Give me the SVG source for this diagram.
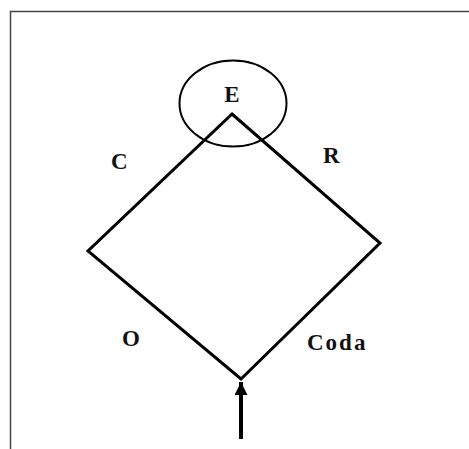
<svg xmlns="http://www.w3.org/2000/svg" width="469" height="449" viewBox="0 0 469 449">
<style>
.lbl{font-family:"Liberation Serif","Times New Roman",serif;font-weight:bold;font-size:23px;fill:#111}
.edge{fill:none;stroke:#000;stroke-width:3;stroke-linejoin:miter}
</style>
<defs>
<marker id="ah" viewBox="0 0 10 10" refX="10" refY="5" markerWidth="15" markerHeight="13" markerUnits="userSpaceOnUse" orient="auto">
<path d="M0,0 L10,5 L0,10 z" fill="#000"/>
</marker>
</defs>
<rect width="469" height="449" fill="#fff"/>
<path d="M10.5,449 V11.5 H469" fill="none" stroke="#444" stroke-width="1.5"/>
<g id="connectors">
<path class="edge" d="M232,114 L380,243 L241,379 L88,251 Z"/>
<line x1="241" y1="439" x2="241" y2="382" stroke="#000" stroke-width="4" marker-end="url(#ah)"/>
</g>
<g id="nodeE">
<ellipse cx="233" cy="103.5" rx="53.5" ry="43" fill="none" stroke="#000" stroke-width="2"/>
<text class="lbl" x="232" y="102" text-anchor="middle">E</text>
</g>
<g id="labelC"><text class="lbl" x="111" y="169">C</text></g>
<g id="labelR"><text class="lbl" x="323" y="163">R</text></g>
<g id="labelO"><text class="lbl" x="122" y="346">O</text></g>
<g id="labelCoda"><text class="lbl" x="307" y="350" letter-spacing="2">Coda</text></g>
</svg>
